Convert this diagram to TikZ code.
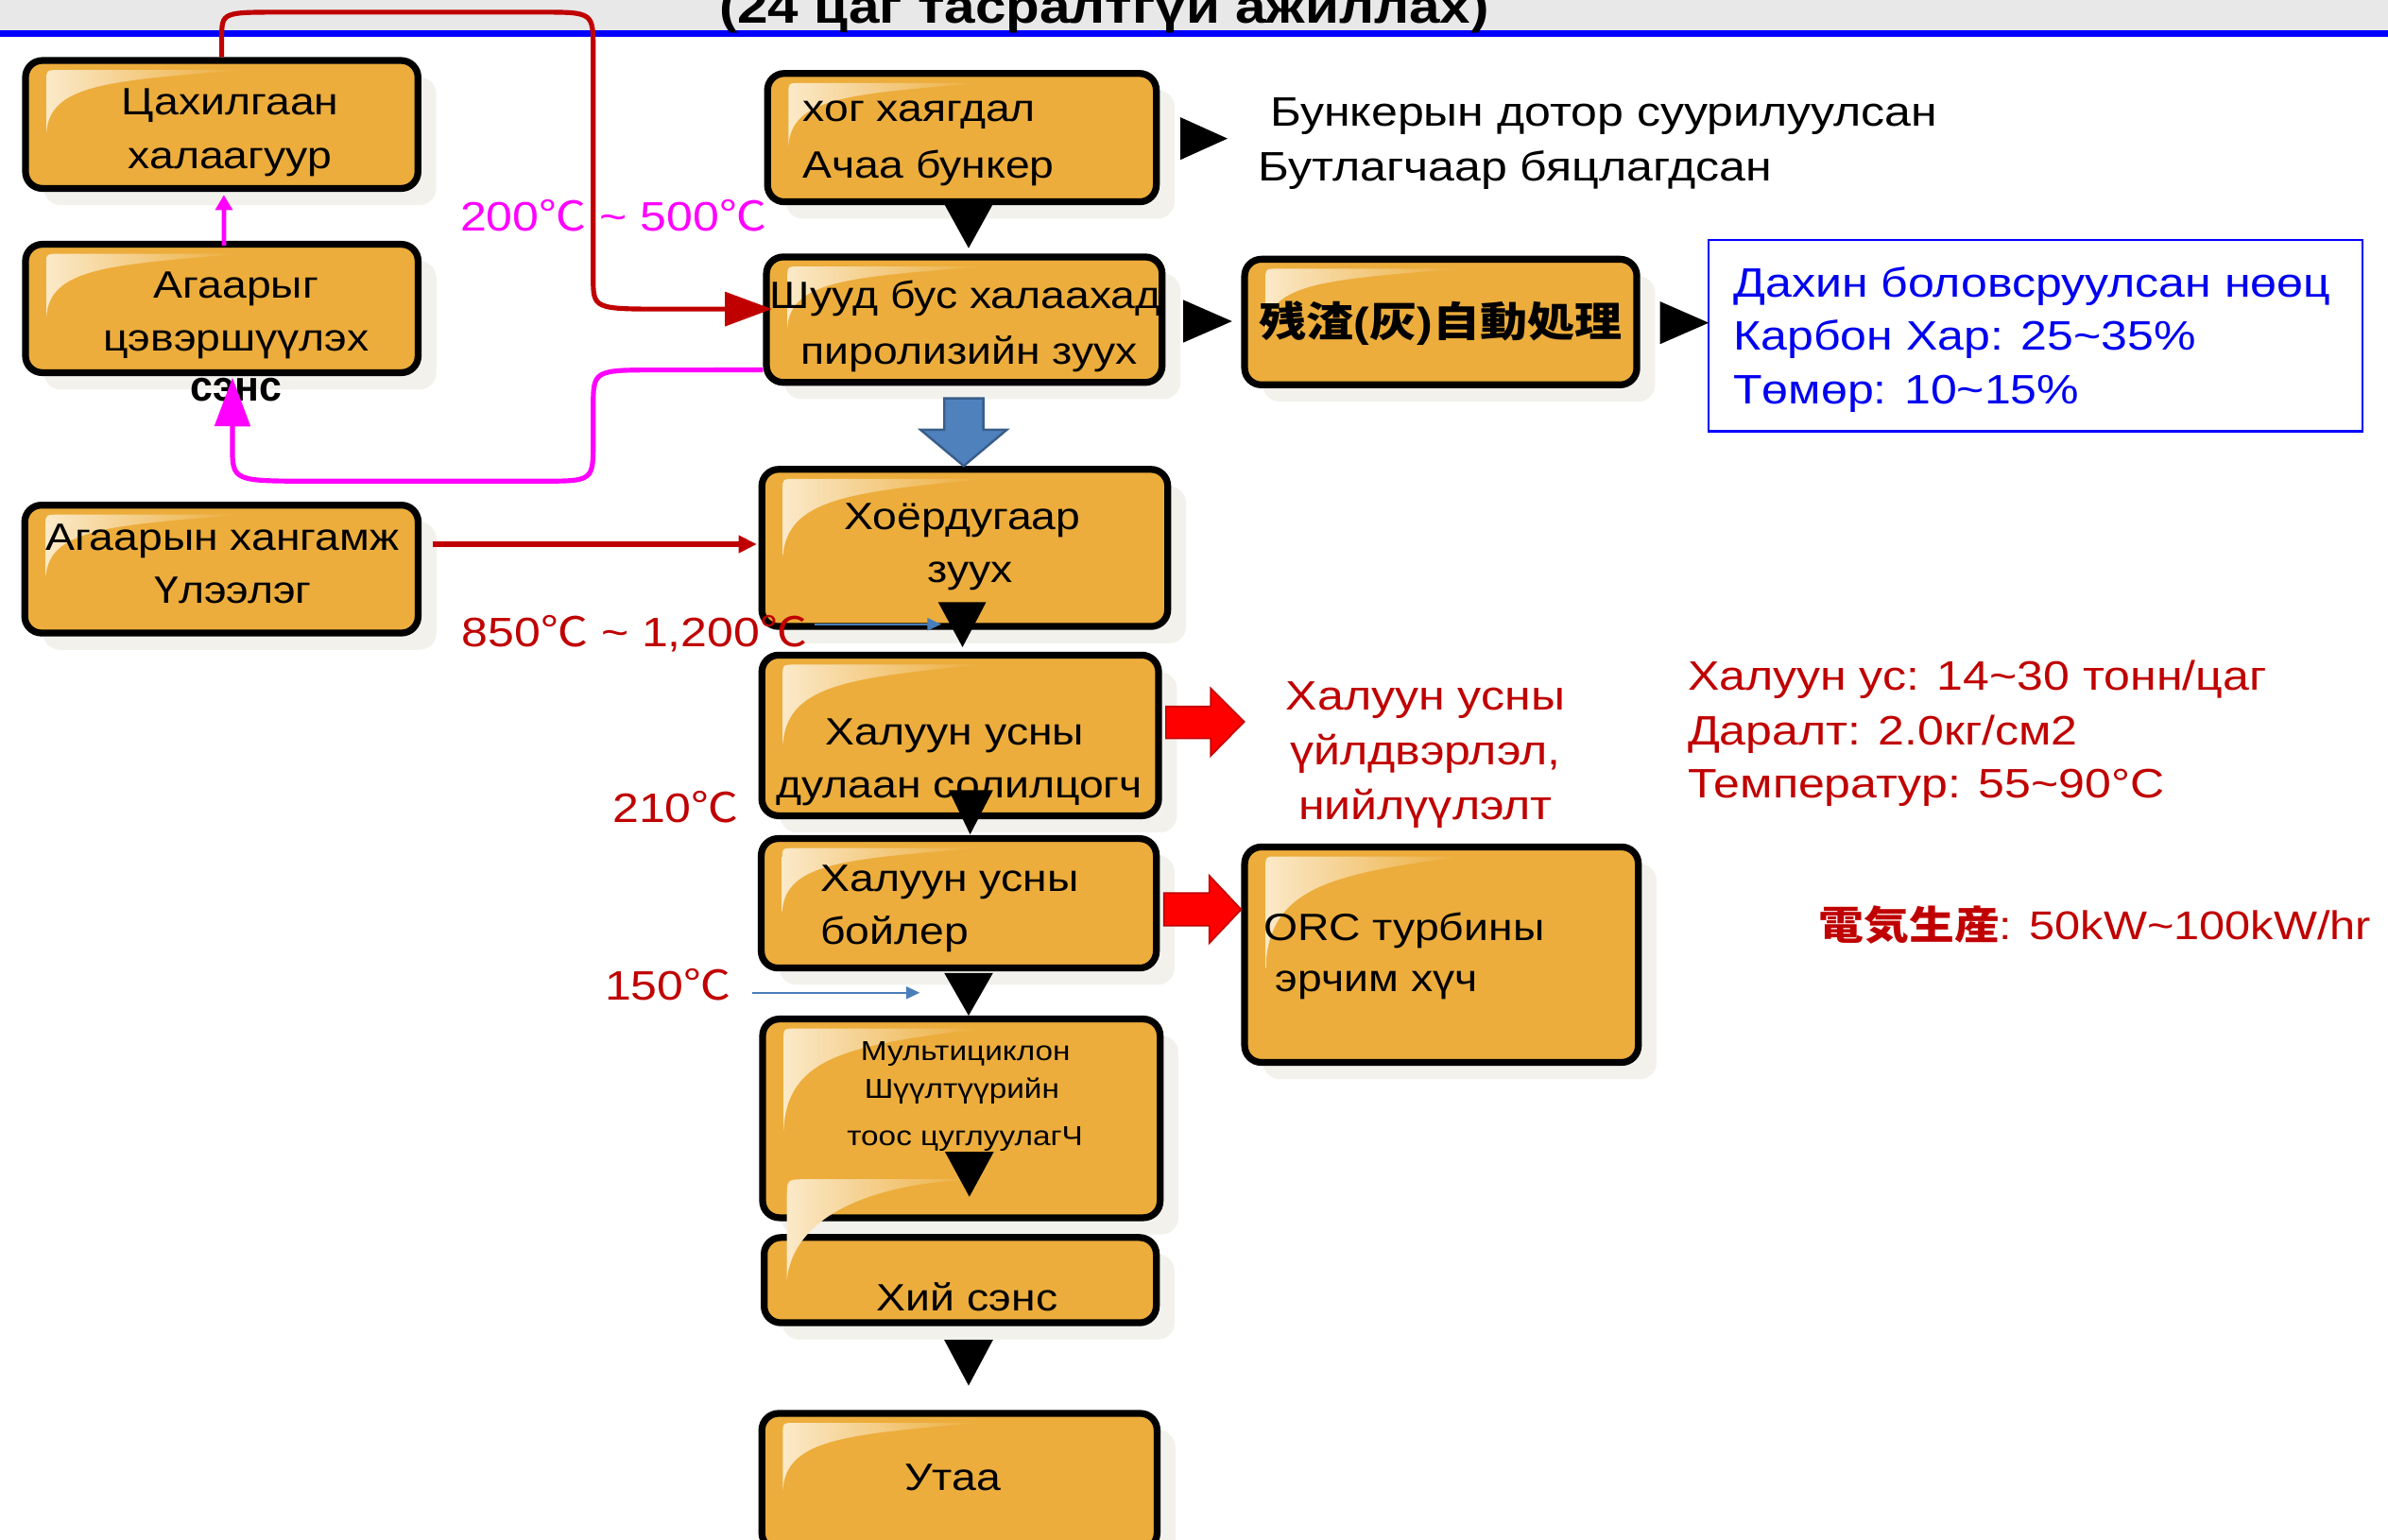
\documentclass[tikz,border=0pt]{standalone}
\usepackage{fontspec}
\setmainfont{Liberation Sans}[FakeStretch=1.15]
\newfontfamily\cjk{Noto Sans CJK JP}[FakeStretch=1.15]
\newfontfamily\narrowsans{Liberation Sans}[FakeStretch=0.95]
\usetikzlibrary{shadows,arrows.meta,calc}
\definecolor{boxfill}{RGB}{236,173,60}
\definecolor{glossc}{RGB}{251,233,200}
\definecolor{shadowc}{RGB}{242,241,236}
\definecolor{darkred}{RGB}{192,0,0}
\definecolor{magc}{RGB}{255,0,255}
\definecolor{bluetxt}{RGB}{0,0,240}
\definecolor{bandgray}{RGB}{232,232,232}
\definecolor{rulecol}{RGB}{0,0,255}
\definecolor{blockblue}{RGB}{79,129,189}
\definecolor{blockblueline}{RGB}{56,93,138}
\definecolor{steel}{RGB}{74,126,187}
\newcommand\dC{{\cjk ℃}}
\newcommand\gloss[1]{\shade[left color=glossc,right color=boxfill] let \p1=(#1.north west), \p2=(#1.south east), \n1={\x2-\x1}, \n2={\y1-\y2} in (\x1+16pt,\y1-0.56*\n2) -- (\x1+16pt,\y1-16pt) .. controls (\x1+16pt,\y1-8.5pt) .. (\x1+24pt,\y1-8.5pt) -- (\x1+0.55*\n1,\y1-8.5pt) .. controls (\x1+0.22*\n1,\y1-8.5pt-0.08*\n2) and (\x1+18pt,\y1-0.2*\n2) .. (\x1+16pt,\y1-0.56*\n2) -- cycle;}
\begin{document}
\begin{tikzpicture}[x=1pt,y=-1pt,
  box/.style 2 args={draw=black, line width=4.5pt, fill=boxfill, rounded corners=11pt,
    minimum width=#1pt, minimum height=#2pt, inner sep=0pt,
    drop shadow={shadow xshift=12pt, shadow yshift=-11pt, fill=shadowc, opacity=1}},
  bt/.style={anchor=base, inner sep=0pt, font=\fontsize{25}{30}\selectfont},
  btl/.style={bt, anchor=base west},
  ot/.style={anchor=base west, inner sep=0pt, font=\fontsize{27}{32}\selectfont},
  tri/.style={fill=black},
  redline/.style={draw=darkred, line width=3.2pt},
  magline/.style={draw=magc, line width=3.2pt},
  thinblue/.style={draw=steel, line width=1.5pt, -{Triangle[length=9pt,width=8pt]}},
  redblock/.style={fill=red, draw=darkred, line width=1pt},
  blueblock/.style={fill=blockblue, draw=blockblueline, line width=1.5pt}]
\useasboundingbox (0,0) rectangle (1568,1011);
% title band
\fill[bandgray] (0,0) rectangle (1568,20);
\fill[rulecol] (0,19.7) rectangle (1568,24.4);
\node[anchor=base west, inner sep=0pt, font=\bfseries\fontsize{31.5}{36}\selectfont] (title) at (472,15.5) {(24 цаг тасралтгүй ажиллах)};
% boxes
\node[box={257.7}{84}] (b1) at (145.6,81.75) {};
\node[box={257.8}{84.3}] (b2) at (145.65,202.6) {};
\node[box={258.3}{84}] (b3) at (145.4,373.75) {};
\node[box={255.3}{84.3}] (b4) at (631.6,90.4) {};
\node[box={259.8}{82.4}] (b5) at (633.15,209.95) {};
\node[box={257.5}{82.5}] (b6) at (946,211.5) {};
\node[box={266.5}{103.2}] (b7) at (633.5,359.85) {};
\node[box={260.5}{105.5}] (b8) at (630.5,483) {};
\node[box={259.4}{85}] (b9) at (629.55,593.25) {};
\node[box={258.5}{141.5}] (b13) at (946.5,627) {};
\node[box={261}{130.5}] (b10) at (631.25,734.5) {};
\node[box={257.5}{56}] (b11) at (630.5,840.75) {};
\node[box={259.5}{89.5}] (b12) at (630,973) {};
\node[draw=rulecol, line width=1.5pt, minimum width=429.5pt, minimum height=125.5pt, inner sep=0pt] (res) at (1336.5,220.5) {};
% glosses
\foreach \b in {b1,b2,b3,b4,b5,b6,b7,b8,b9,b10,b12,b13} {\gloss{\b}}
\shade[left color=glossc,right color=boxfill] (516.7,840) -- (516.7,787) .. controls (516.7,774.5) .. (529,774.5) -- (643.5,774.5) .. controls (580,776) and (522,795) .. (516.7,840) -- cycle;
% box texts
\node[bt] (t1a) at (151,75.5) {Цахилгаан};
\node[bt] (t1b) at (151,110.7) {халаагуур};
\node[bt] (t2a) at (155,195.5) {Агаарыг};
\node[bt] (t2b) at (155,230.5) {цэвэршүүлэх};
\node[bt, font=\narrowsans\bfseries\fontsize{28}{32}\selectfont] (t2c) at (155,263.7) {сэнс};
\node[bt] (t3a) at (146,361.5) {Агаарын хангамж};
\node[bt] (t3b) at (153,396) {Үлээлэг};
\node[btl] (t4a) at (527,80) {хог хаягдал};
\node[btl] (t4b) at (527,117) {Ачаа бункер};
\node[bt] (t5a) at (634,202.7) {Шууд бус халаахад};
\node[bt] (t5b) at (636.5,238.9) {пиролизийн зуух};
\node[bt, font=\fontsize{27}{32}\selectfont] (t6) at (946,221) {{\cjk\bfseries 残渣}{\bfseries (}{\cjk\bfseries 灰}{\bfseries )}{\cjk\bfseries 自動処理}};
\node[bt] (t7a) at (632,348) {Хоёрдугаар};
\node[bt] (t7b) at (637,382.6) {зуух};
\node[bt] (t8a) at (627,489) {Халуун усны};
\node[bt] (t8b) at (630,524.3) {дулаан солилцогч};
\node[btl] (t9a) at (538.6,585.5) {Халуун усны};
\node[btl] (t9b) at (538.6,620) {бойлер};
\node[bt, font=\fontsize{18}{22}\selectfont] (t10a) at (634,696.5) {Мультициклон};
\node[bt, font=\fontsize{18}{22}\selectfont] (t10b) at (631.6,721.3) {Шүүлтүүрийн};
\node[bt, font=\fontsize{18}{22}\selectfont] (t10c) at (633.6,752.4) {тоос цуглуулагЧ};
\node[bt] (t11) at (635,861) {Хий сэнс};
\node[bt] (t12) at (625.7,978.8) {Утаа};
\node[btl] (t13a) at (829.4,617.4) {ORC турбины};
\node[btl] (t13b) at (837.4,651.5) {эрчим хүч};
% side texts
\node[ot] (s1) at (834,83) {Бункерын дотор суурилуулсан};
\node[ot] (s2) at (826,119) {Бутлагчаар бяцлагдсан};
\node[ot, text=bluetxt] (r1) at (1138,195) {Дахин боловсруулсан нөөц};
\node[ot, text=bluetxt] (r2) at (1138,230) {Карбон Хар: 25\textasciitilde35\%};
\node[ot, text=bluetxt] (r3) at (1138,265) {Төмөр: 10\textasciitilde15\%};
\node[ot, anchor=base, text=darkred] (h1) at (936,466) {Халуун усны};
\node[ot, anchor=base, text=darkred] (h2) at (936,502) {үйлдвэрлэл,};
\node[ot, anchor=base, text=darkred] (h3) at (936,538) {нийлүүлэлт};
\node[ot, text=darkred] (p1) at (1108,453) {Халуун ус: 14\textasciitilde30 тонн/цаг};
\node[ot, text=darkred] (p2) at (1108,489) {Даралт: 2.0кг/см2};
\node[ot, text=darkred] (p3) at (1108,524) {Температур: 55\textasciitilde90°C};
\node[ot, text=darkred, font=\fontsize{26.3}{31}\selectfont] (e1) at (1194,617) {{\cjk\bfseries\fontsize{25.8}{31}\selectfont 電気生産}: 50kW\textasciitilde100kW/hr};
\node[ot, text=magc] (m200) at (302,152) {200\dC{} \textasciitilde{} 500\dC};
\node[ot, text=darkred] (m850) at (303,425) {850\dC{} \textasciitilde{} 1,200\dC};
\node[ot, text=darkred] (m210) at (402,540) {210\dC};
\node[ot, text=darkred] (m150) at (397,657) {150\dC};
% connectors
\draw[redline, -{Triangle[length=31pt,width=22pt]}] (b1.north) -- (145.6,25) .. controls (145.6,8) .. (185,8) -- (355,8) .. controls (389.5,8) .. (389.5,33) -- (389.5,182) .. controls (389.5,203) .. (437,203) -- ($(b5.west)+(6,-7)$);
\draw[magline, -{Triangle[length=32pt,width=23pt]}] ($(b5.west)+(0,33)$) -- (432,243) .. controls (389.5,243) .. (389.5,268) -- (389.5,290) .. controls (389.5,316) .. (355,316) -- (206,316) .. controls (152.6,316) .. (152.6,293) -- ($(b2.south)+(7,1)$);
\draw[magline, line width=3pt, -{Triangle[length=10pt,width=11pt]}] ($(b2.north)+(1.4,3)$) -- ($(b1.south)+(1.4,2)$);
\draw[redline, line width=3.5pt, -{Triangle[length=12pt,width=11pt]}] ($(b3.east)+(7.5,-16.35)$) -- ($(b7.west)+(-1,-2.45)$);
\coordinate (a1s) at (535,410);
\coordinate (a1e) at (618,410);
\draw[thinblue] (a1s) -- (a1e);
\coordinate (a2s) at (494,652);
\coordinate (a2e) at (604,652);
\draw[thinblue] (a2s) -- (a2e);
% block arrows
\filldraw[blueblock] (620,261.6) -- (645.7,261.6) -- (645.7,282.3) -- (661,282.3) -- (632.8,306) -- (604.5,282.3) -- (620,282.3) -- cycle;
\filldraw[redblock] (765.6,464) -- (795,464) -- (795,452) -- (817,474) -- (795,496.4) -- (795,485) -- (765.6,485) -- cycle;
\filldraw[redblock] (764.3,586.5) -- (794,586.5) -- (794,575) -- (815,597.3) -- (794,619.5) -- (794,608) -- (764.3,608) -- cycle;
% black triangles
\fill[tri] (775,77) -- (775,105) -- (806,91) -- cycle;
\fill[tri] (620,134) -- (652,134) -- (636,163) -- cycle;
\fill[tri] (777,197) -- (777,225) -- (809,211) -- cycle;
\fill[tri] (1090,198) -- (1090,226) -- (1122,212) -- cycle;
\fill[tri] (616,395.5) -- (647.5,395.5) -- (632,425) -- cycle;
\fill[tri] (623,519) -- (652,519) -- (637,548) -- cycle;
\fill[tri] (620,639) -- (652,639) -- (636,667) -- cycle;
\fill[tri] (620.5,756.5) -- (652.5,756.5) -- (636.5,786) -- cycle;
\fill[tri] (620,880) -- (652,880) -- (636,910) -- cycle;
\end{tikzpicture}
\end{document}
